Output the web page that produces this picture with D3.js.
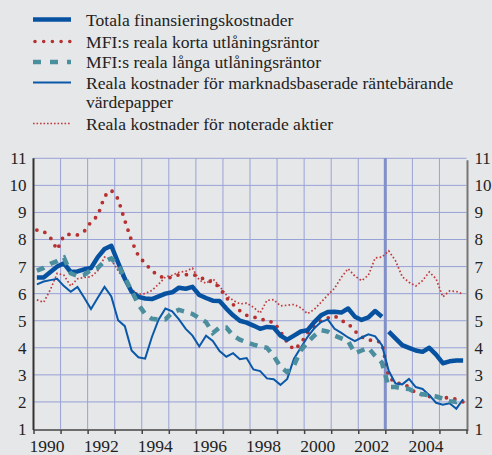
<!DOCTYPE html>
<html><head><meta charset="utf-8">
<script src="https://cdn.jsdelivr.net/npm/d3@7"></script>
<style>
html,body{margin:0;padding:0;background:#e6e7e9;}
svg{display:block;font-family:"Liberation Serif","Times New Roman",serif;}
</style></head>
<body>
<svg id="chart" width="492" height="455"></svg>
<script>
// ---- Data (quarterly, 1990 K1 – 2005 K4) ----
const startYear = 1990, endYear = 2006;
const quarters = [];
for (let y = 1990; y <= 2005; y++) for (let q = 1; q <= 4; q++) quarters.push(y + "K" + q);

const totala = [6.6,6.6,6.8,7.0, 7.12,6.8,6.82,6.9, 6.95,7.35,7.65,7.77, 7.15,6.55,6.07,5.88,
  5.82,5.8,5.9,6.0, 6.05,6.22,6.18,6.25, 5.95,5.84,5.74,5.73, 5.45,5.2,5.0,4.93,
  4.82,4.7,4.77,4.75, 4.45,4.3,4.45,4.6, 4.65,4.95,5.2,5.32, 5.33,5.3,5.45,5.15,
  5.03,5.12,5.36,5.15, 4.6,4.35,4.1,4.0, 3.9,3.85,4.0,3.75, 3.43,3.5,3.53,3.53];
const korta = [8.35,8.3,8.07,7.62, 8.15,8.2,8.17,8.3, 8.65,8.88,9.6,9.82, 9.5,8.7,7.95,7.4,
  7.12,6.85,6.65,6.58, 6.6,6.7,6.7,6.7, 6.65,6.47,6.45,6.22, 5.85,5.6,5.37,5.2,
  5.13,5.1,4.96,4.96, 4.6,4.2,3.93,4.15, 4.55,4.78,5.0,5.1, 5.18,5.0,4.9,4.62,
  4.4,4.28,4.28,4.18, 2.93,2.69,2.68,2.55, 2.33,2.26,2.2,2.2, 2.17,2.14,2.1,2.0];
const langa = [6.85,6.95,7.1,7.2, 7.33,6.75,6.65,6.7, 6.88,6.95,7.2,7.3, 7.05,6.6,6.1,5.6,
  5.25,5.07,5.04,5.05, 5.3,5.4,5.33,5.25, 5.1,4.95,4.55,4.75, 4.75,4.45,4.3,4.2,
  4.12,4.05,4.0,3.7, 3.3,3.1,3.35,3.9, 4.2,4.45,4.65,4.6, 4.45,4.35,4.25,3.8,
  3.9,4.0,3.7,3.45, 2.55,2.55,2.5,2.48, 2.35,2.28,2.25,2.2, 2.12,2.03,2.0,2.1];
const marknad = [6.34,6.45,6.5,6.55, 6.28,6.07,6.25,5.85, 5.43,5.85,6.25,5.9, 5.02,4.8,3.9,3.65,
  3.6,4.4,5.05,5.45, 5.35,5.05,4.7,4.45, 4.05,4.45,4.25,3.88, 3.67,3.8,3.58,3.62,
  3.2,3.14,2.87,2.84, 2.63,2.85,3.6,4.0, 4.4,4.72,4.95,5.05, 4.7,4.55,4.38,4.25,
  4.38,4.5,4.42,4.1, 3.15,2.68,2.65,2.85, 2.55,2.48,2.25,1.97, 1.9,1.95,1.75,2.1];
const aktier = [5.77,5.68,6.15,6.75, 6.68,6.28,6.55,6.6, 6.62,6.85,7.35,7.25, 6.85,6.5,6.15,5.98,
  6.0,6.12,6.35,6.62, 6.68,6.79,6.83,6.94, 6.5,6.38,6.55,6.28, 5.95,5.75,5.62,5.65,
  5.5,5.28,5.75,5.78, 5.55,5.57,5.6,5.48, 5.26,5.42,5.68,5.95, 6.2,6.6,6.92,6.65,
  6.48,6.68,7.32,7.35, 7.58,7.22,6.63,6.42, 6.28,6.48,6.8,6.55, 5.88,6.1,6.08,5.98];
const seriesBreakAt = "2003K1"; // totala has a break in the series here
const yTicks = [1,2,3,4,5,6,7,8,9,10,11];
const xLabelYears = [1990,1992,1994,1996,1998,2000,2002,2004];
const markerYear = 2003;
const legendLabels = [
  ["Totala finansieringskostnader"],
  ["MFI:s reala korta utlåningsräntor"],
  ["MFI:s reala långa utlåningsräntor"],
  ["Reala kostnader för marknadsbaserade räntebärande","värdepapper"],
  ["Reala kostnader för noterade aktier"]
];

// ---- Layout ----
const svg = d3.select("#chart");
const x = d3.scaleLinear().domain([startYear, endYear]).range([33.5, 466.5]);
const y = d3.scaleLinear().domain([1, 11]).range([429, 158.3]);
const tOf = i => { const s = quarters[i]; return +s.slice(0,4) + (+s.slice(5) - 0.5) / 4; };

const gridCol = "#98a2d6";
const g = svg.append("g");

// horizontal gridlines
g.selectAll(".hg").data(yTicks.slice(1)).join("line")
  .attr("x1", x(startYear)).attr("x2", x(endYear))
  .attr("y1", d => y(d)).attr("y2", d => y(d))
  .attr("stroke", gridCol).attr("stroke-width", 1);
// vertical gridlines
const years = d3.range(startYear + 1, endYear);
g.selectAll(".vg").data(years).join("line")
  .attr("x1", d => x(d)).attr("x2", d => x(d))
  .attr("y1", y(11)).attr("y2", y(1))
  .attr("stroke", gridCol).attr("stroke-width", 1);
// series break marker
g.append("line").attr("x1", x(markerYear)).attr("x2", x(markerYear))
  .attr("y1", y(11)).attr("y2", y(1))
  .attr("stroke", "#8190c8").attr("stroke-width", 3);

// axes
const axisL = d3.axisLeft(y).tickValues(yTicks).tickSize(0).tickPadding(7).tickFormat(d3.format("d"));
const axisR = d3.axisRight(y).tickValues(yTicks).tickSize(0).tickPadding(7).tickFormat(d3.format("d"));
const gl = svg.append("g").attr("transform", `translate(${x(startYear)},0)`).call(axisL);
const gr = svg.append("g").attr("transform", `translate(${x(endYear)+1},0)`).call(axisR);
[gl, gr].forEach(a => {
  a.select(".domain").remove();
  a.selectAll("text").attr("font-family", "Liberation Serif").attr("font-size", 17).attr("fill", "#222");
});
svg.append("line").attr("x1", x(startYear)).attr("x2", x(startYear))
  .attr("y1", y(11)).attr("y2", y(1)+1).attr("stroke", "#333").attr("stroke-width", 2);
svg.append("line").attr("x1", x(endYear)+1).attr("x2", x(endYear)+1)
  .attr("y1", y(11)+2).attr("y2", y(1)+2).attr("stroke", "#777").attr("stroke-width", 2);

// bottom axis
const axisB = d3.axisBottom(x).tickValues(d3.range(startYear, endYear + 1)).tickSize(4).tickFormat("");
const gb = svg.append("g").attr("transform", `translate(0,${y(1)+1})`).call(axisB);
gb.select(".domain").attr("stroke", "#444").attr("stroke-width", 1.5).attr("d", `M${x(startYear)},0H${x(endYear)+1}`);
gb.selectAll(".tick line").attr("stroke", "#444").attr("stroke-width", 1.5);
svg.append("g").selectAll("text").data(xLabelYears).join("text")
  .attr("x", d => x(d + 0.5)).attr("y", 452)
  .attr("text-anchor", "middle").attr("font-size", 17.5).attr("fill", "#222")
  .text(d => d);

// lines
const line = d3.line().x(d => x(d.t)).y(d => y(d.v));
const pts = arr => arr.map((v, i) => ({t: tOf(i), v}));
const plot = svg.append("g");
const brk = quarters.indexOf(seriesBreakAt);

plot.append("path").datum(pts(aktier)).attr("d", line)
  .attr("fill", "none").attr("stroke", "#c0393b").attr("stroke-width", 1.7)
  .attr("stroke-dasharray", "1.6,2.2");
plot.append("path").datum(pts(korta)).attr("d", line)
  .attr("fill", "none").attr("stroke", "#b5302f").attr("stroke-width", 3.8)
  .attr("stroke-linecap", "round").attr("stroke-dasharray", "0,8.5");
plot.append("path").datum(pts(marknad)).attr("d", line)
  .attr("fill", "none").attr("stroke", "#0a58a8").attr("stroke-width", 2);
const tp = pts(totala);
[tp.slice(0, brk), tp.slice(brk)].forEach(seg => {
  plot.append("path").datum(seg).attr("d", line)
    .attr("fill", "none").attr("stroke", "#0652a0").attr("stroke-width", 4.5)
    .attr("stroke-linejoin", "round");
});
plot.append("path").datum(pts(langa)).attr("d", line)
  .attr("fill", "none").attr("stroke", "#4b8e9e").attr("stroke-width", 4.5)
  .attr("stroke-dasharray", "8,7");

// legend
const legendStyles = [
  {stroke:"#0652a0", w:4.5, dash:null, cap:"butt"},
  {stroke:"#b5302f", w:3.6, dash:"0,8.7", cap:"round"},
  {stroke:"#4b8e9e", w:4.5, dash:"8,9", cap:"butt"},
  {stroke:"#0a58a8", w:2, dash:null, cap:"butt"},
  {stroke:"#c0393b", w:1.6, dash:"1.6,1.9", cap:"butt"}
];
const legendRowY = [19.5, 41.5, 62, 82.5, 123.5];
const lg = svg.append("g");
legendLabels.forEach((lines, i) => {
  const st = legendStyles[i];
  const ly = legendRowY[i];
  lg.append("line").attr("x1", st.cap === "round" ? 35 : 33).attr("x2", 71)
    .attr("y1", ly).attr("y2", ly)
    .attr("stroke", st.stroke).attr("stroke-width", st.w)
    .attr("stroke-linecap", st.cap).attr("stroke-dasharray", st.dash);
  lines.forEach((txt, j) => {
    lg.append("text").attr("x", 86).attr("y", ly + 6 + j * 19.8)
      .attr("font-size", 17.6).attr("fill", "#222").text(txt);
  });
});
</script>
</body></html>
